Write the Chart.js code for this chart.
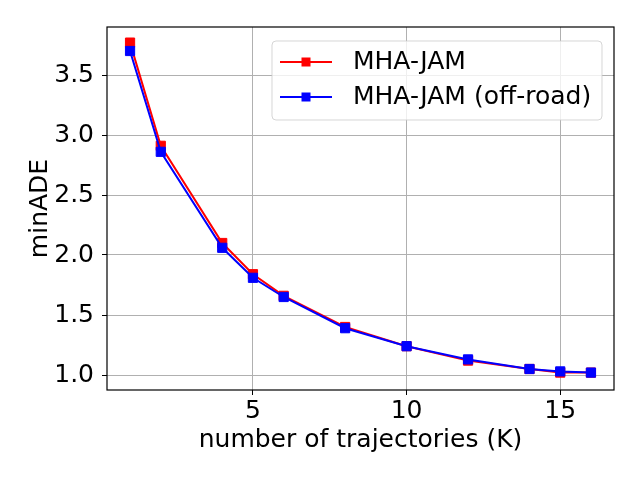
<!DOCTYPE html>
<html>
<head>
<meta charset="utf-8">
<script src="https://cdn.jsdelivr.net/npm/chart.js@4"></script>
<style>
  html, body { margin: 0; padding: 0; background: #fff; }
  #wrap { width: 640px; height: 480px; }
</style>
</head>
<body>
<div id="wrap"><canvas id="chartAde"></canvas></div>
<script>
const numTrayectorias = [1, 2, 4, 5, 6, 8, 10, 12, 14, 15, 16];
const adeNormal = [3.77, 2.91, 2.10, 1.84, 1.66, 1.40, 1.24, 1.12, 1.05, 1.02, 1.02];
const adeOffRoad = [3.70, 2.86, 2.06, 1.81, 1.65, 1.39, 1.24, 1.13, 1.05, 1.03, 1.02];
const nombresSeries = ['MHA-JAM', 'MHA-JAM (off-road)'];
const coloresSeries = ['#ff0000', '#0000ff'];
const ticksX = [5, 10, 15];
const ticksY = [1.0, 1.5, 2.0, 2.5, 3.0, 3.5];

const fuente = 'DejaVu Sans';
const ctx = document.getElementById('chartAde').getContext('2d');

const armarPuntos = (valores) => numTrayectorias.map((k, i) => ({ x: k, y: valores[i] }));

const serie = (idx, valores, orden) => ({
    label: nombresSeries[idx],
    data: armarPuntos(valores),
    borderColor: coloresSeries[idx],
    backgroundColor: coloresSeries[idx],
    borderWidth: 2,
    pointStyle: 'rect',
    pointRadius: 6.5,
    pointBorderWidth: 1,
    pointHoverRadius: 6.5,
    tension: 0,
    order: orden
});

// marco negro alrededor del area y leyenda dentro del grafico
const marcoYLeyenda = {
    id: 'marcoYLeyenda',
    afterDraw(chart) {
        const c = chart.ctx;
        const a = chart.chartArea;
        c.save();
        c.strokeStyle = '#000';
        c.lineWidth = 1.2;
        c.strokeRect(a.left, a.top, a.right - a.left, a.bottom - a.top);

        // leyenda
        const bx = 272, by = 41, bw = 330, bh = 79, r = 4;
        c.beginPath();
        c.moveTo(bx + r, by);
        c.arcTo(bx + bw, by, bx + bw, by + bh, r);
        c.arcTo(bx + bw, by + bh, bx, by + bh, r);
        c.arcTo(bx, by + bh, bx, by, r);
        c.arcTo(bx, by, bx + bw, by, r);
        c.closePath();
        c.fillStyle = 'rgba(255,255,255,0.8)';
        c.fill();
        c.strokeStyle = 'rgba(204,204,204,0.8)';
        c.lineWidth = 1;
        c.stroke();

        const filas = [62, 97];
        filas.forEach((y, i) => {
            c.strokeStyle = coloresSeries[i];
            c.lineWidth = 2;
            c.beginPath();
            c.moveTo(280, y);
            c.lineTo(332, y);
            c.stroke();
            c.fillStyle = coloresSeries[i];
            c.fillRect(306 - 4.5, y - 4.5, 9, 9);
            c.fillStyle = '#000';
            c.font = '25px "' + fuente + '"';
            c.textBaseline = 'middle';
            c.textAlign = 'left';
            c.fillText(nombresSeries[i], 353, y);
        });
        c.restore();
    }
};

const chartAde = new Chart(ctx, {
    type: 'line',
    data: {
        datasets: [
            serie(0, adeNormal, 1),
            serie(1, adeOffRoad, 0)
        ]
    },
    options: {
        responsive: true,
        maintainAspectRatio: false,
        animation: false,
        layout: { padding: { top: 27, right: 26, left: 0, bottom: 0 } },
        plugins: {
            legend: { display: false },
            tooltip: { enabled: false }
        },
        scales: {
            x: {
                type: 'linear',
                min: 0.25,
                max: 16.75,
                afterBuildTicks: (eje) => { eje.ticks = ticksX.map(v => ({ value: v })); },
                afterFit: (eje) => { eje.height = 90; },
                border: { display: false },
                grid: { color: '#b0b0b0', lineWidth: 1, tickColor: '#000', tickLength: 5 },
                ticks: {
                    color: '#000',
                    font: { family: fuente, size: 25 },
                    padding: 1,
                    maxRotation: 0
                },
                title: {
                    display: true,
                    text: 'number of trajectories (K)',
                    color: '#000',
                    font: { family: fuente, size: 25 },
                    padding: { top: 0, bottom: 25 }
                }
            },
            y: {
                min: 0.875,
                max: 3.90,
                afterBuildTicks: (eje) => { eje.ticks = ticksY.map(v => ({ value: v })); },
                afterFit: (eje) => { eje.width = 107; },
                border: { display: false },
                grid: { color: '#b0b0b0', lineWidth: 1, tickColor: '#000', tickLength: 5 },
                ticks: {
                    color: '#000',
                    font: { family: fuente, size: 25 },
                    padding: 8,
                    callback: (v) => Number(v).toFixed(1)
                },
                title: {
                    display: true,
                    text: 'minADE',
                    color: '#000',
                    font: { family: fuente, size: 25 },
                    padding: { top: 25, bottom: 0 }
                }
            }
        }
    },
    plugins: [marcoYLeyenda]
});
</script>
</body>
</html>
